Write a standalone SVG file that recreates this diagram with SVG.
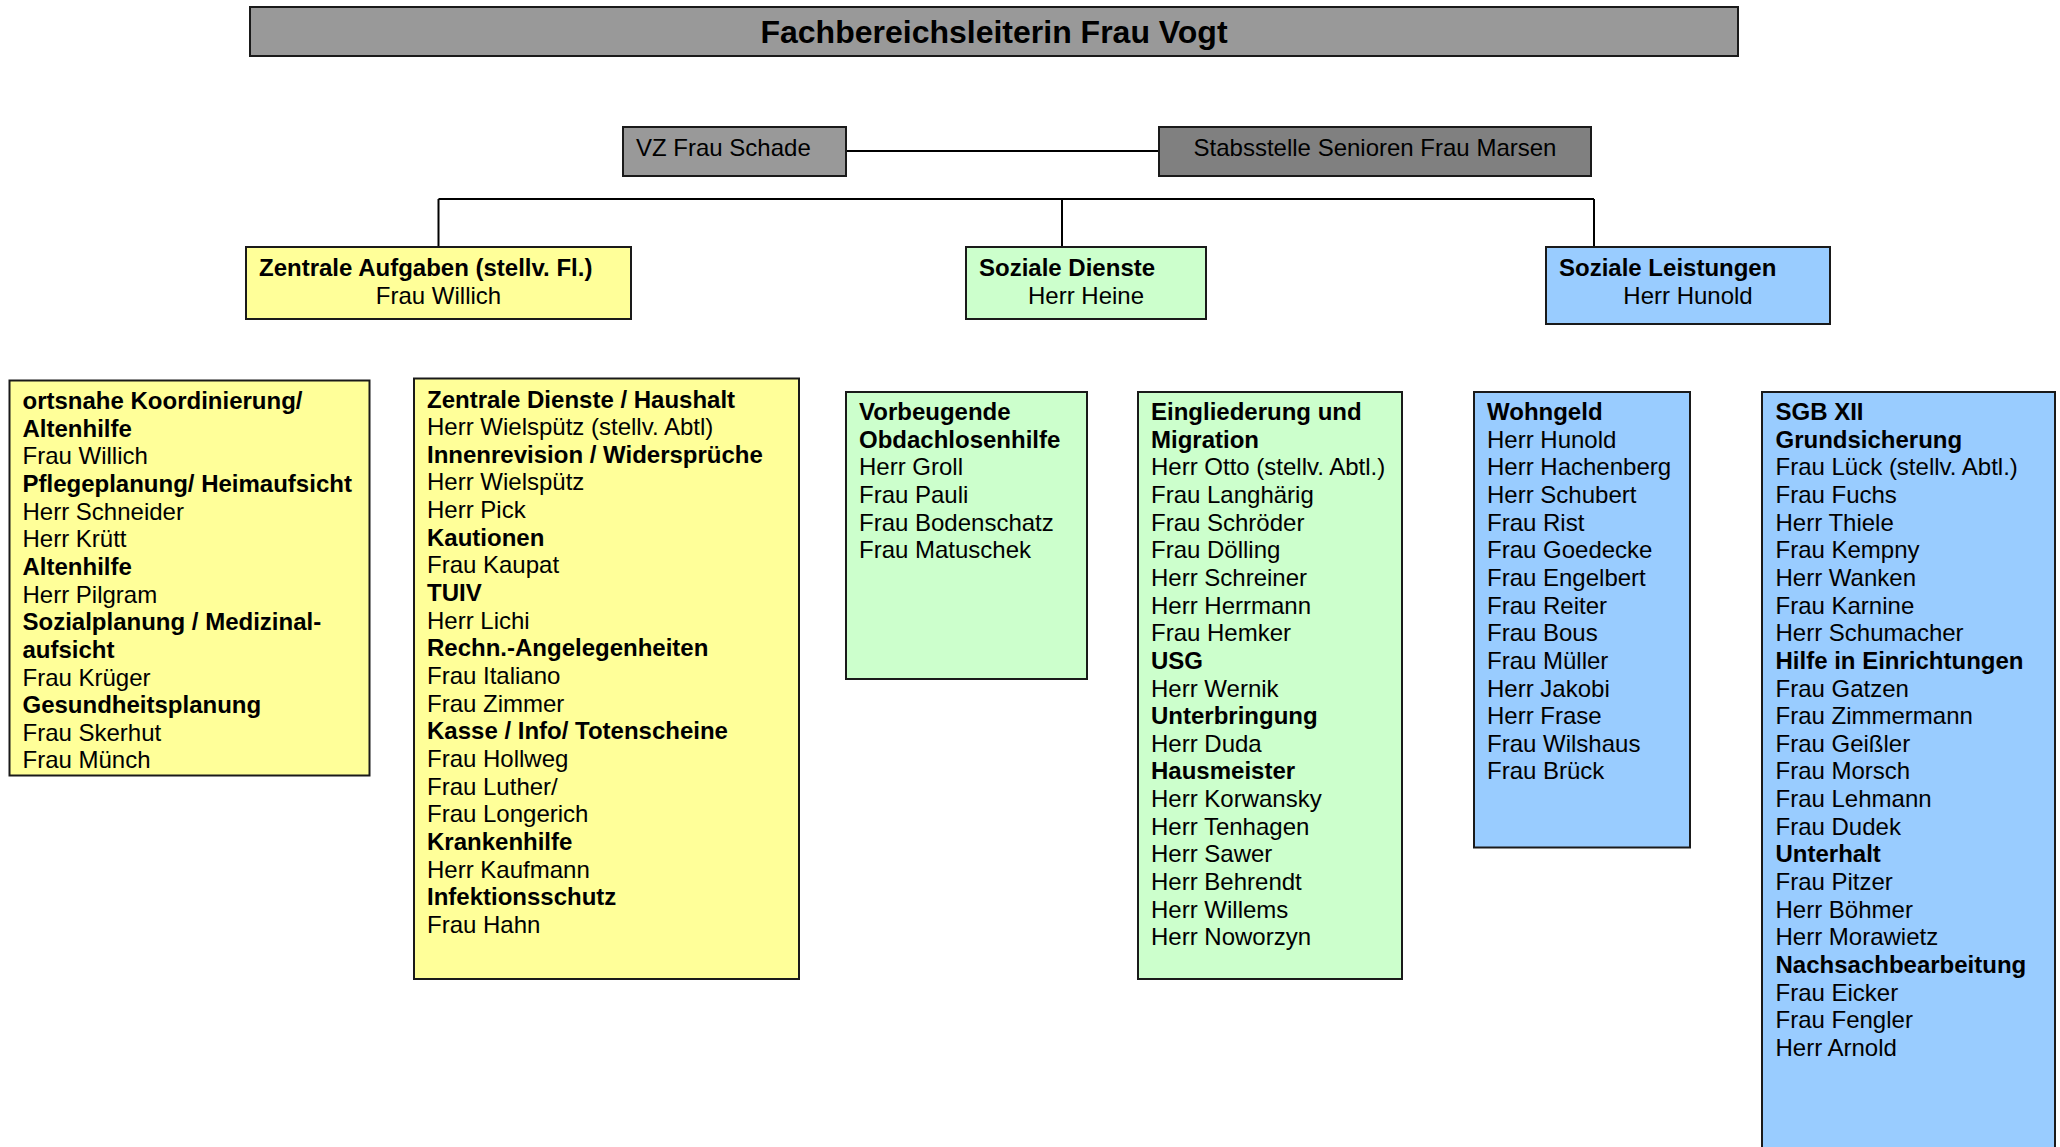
<svg xmlns="http://www.w3.org/2000/svg" width="2060" height="1147" viewBox="0 0 2060 1147">
<style>
text{font-family:"Liberation Sans",Arial,sans-serif;font-size:24px;fill:#000}
.b{font-weight:bold}
.t{font-weight:bold;font-size:32px}
.box{stroke:#1a1a1a;stroke-width:2}
.gray{fill:#999999}
.dgray{fill:#808080}
.yel{fill:#FFFF99}
.grn{fill:#CCFFCC}
.blu{fill:#99CCFF}
.ln{stroke:#000;stroke-width:2;fill:none}
</style>
<rect width="2060" height="1147" fill="#fff"/>
<g id="connectors">
<line class="ln" x1="846" y1="151" x2="1159" y2="151"/>
<line class="ln" x1="438.5" y1="199" x2="1594" y2="199"/>
<line class="ln" x1="438.5" y1="199" x2="438.5" y2="247"/>
<line class="ln" x1="1062" y1="199" x2="1062" y2="247"/>
<line class="ln" x1="1594" y1="199" x2="1594" y2="247"/>
</g>
<g id="title">
<rect class="box gray" x="250" y="7" width="1488" height="49"/>
<text class="t" x="994" y="43" text-anchor="middle">Fachbereichsleiterin Frau Vogt</text>
</g>
<g id="vz">
<rect class="box gray" x="623" y="127" width="223" height="49"/>
<text x="636" y="156">VZ Frau Schade</text>
</g>
<g id="stabsstelle">
<rect class="box dgray" x="1159" y="127" width="432" height="49"/>
<text x="1375" y="156" text-anchor="middle">Stabsstelle Senioren Frau Marsen</text>
</g>
<g id="zentrale">
<rect class="box yel" x="246" y="247" width="385" height="72"/>
<text class="b" x="259" y="276">Zentrale Aufgaben (stellv. Fl.)</text>
<text x="438.5" y="304" text-anchor="middle">Frau Willich</text>
</g>
<g id="sozdienste">
<rect class="box grn" x="966" y="247" width="240" height="72"/>
<text class="b" x="979" y="276">Soziale Dienste</text>
<text x="1086" y="304" text-anchor="middle">Herr Heine</text>
</g>
<g id="sozleistungen">
<rect class="box blu" x="1546" y="247" width="284" height="77"/>
<text class="b" x="1559" y="276">Soziale Leistungen</text>
<text x="1688" y="304" text-anchor="middle">Herr Hunold</text>
</g>
<g id="box-ortsnahe">
<rect class="box yel" x="9.5" y="380.5" width="360" height="395"/>
<text x="22.5">
<tspan class="b" x="22.5" y="409">ortsnahe Koordinierung/</tspan>
<tspan class="b" x="22.5" y="436.65">Altenhilfe</tspan>
<tspan x="22.5" y="464.3">Frau Willich</tspan>
<tspan class="b" x="22.5" y="491.95">Pflegeplanung/ Heimaufsicht</tspan>
<tspan x="22.5" y="519.6">Herr Schneider</tspan>
<tspan x="22.5" y="547.25">Herr Krütt</tspan>
<tspan class="b" x="22.5" y="574.9">Altenhilfe</tspan>
<tspan x="22.5" y="602.55">Herr Pilgram</tspan>
<tspan class="b" x="22.5" y="630.2">Sozialplanung / Medizinal-</tspan>
<tspan class="b" x="22.5" y="657.85">aufsicht</tspan>
<tspan x="22.5" y="685.5">Frau Krüger</tspan>
<tspan class="b" x="22.5" y="713.15">Gesundheitsplanung</tspan>
<tspan x="22.5" y="740.8">Frau Skerhut</tspan>
<tspan x="22.5" y="768.45">Frau Münch</tspan>
</text>
</g>
<g id="box-zentraledienste">
<rect class="box yel" x="414" y="378.5" width="385" height="600.5"/>
<text x="427">
<tspan class="b" x="427" y="407.5">Zentrale Dienste / Haushalt</tspan>
<tspan x="427" y="435.15">Herr Wielspütz (stellv. Abtl)</tspan>
<tspan class="b" x="427" y="462.8">Innenrevision / Widersprüche</tspan>
<tspan x="427" y="490.45">Herr Wielspütz</tspan>
<tspan x="427" y="518.1">Herr Pick</tspan>
<tspan class="b" x="427" y="545.75">Kautionen</tspan>
<tspan x="427" y="573.4">Frau Kaupat</tspan>
<tspan class="b" x="427" y="601.05">TUIV</tspan>
<tspan x="427" y="628.7">Herr Lichi</tspan>
<tspan class="b" x="427" y="656.35">Rechn.-Angelegenheiten</tspan>
<tspan x="427" y="684">Frau Italiano</tspan>
<tspan x="427" y="711.65">Frau Zimmer</tspan>
<tspan class="b" x="427" y="739.3">Kasse / Info/ Totenscheine</tspan>
<tspan x="427" y="766.95">Frau Hollweg</tspan>
<tspan x="427" y="794.6">Frau Luther/</tspan>
<tspan x="427" y="822.25">Frau Longerich</tspan>
<tspan class="b" x="427" y="849.9">Krankenhilfe</tspan>
<tspan x="427" y="877.55">Herr Kaufmann</tspan>
<tspan class="b" x="427" y="905.2">Infektionsschutz</tspan>
<tspan x="427" y="932.85">Frau Hahn</tspan>
</text>
</g>
<g id="box-obdachlosenhilfe">
<rect class="box grn" x="846" y="392" width="241" height="287"/>
<text x="859">
<tspan class="b" x="859" y="420">Vorbeugende</tspan>
<tspan class="b" x="859" y="447.65">Obdachlosenhilfe</tspan>
<tspan x="859" y="475.3">Herr Groll</tspan>
<tspan x="859" y="502.95">Frau Pauli</tspan>
<tspan x="859" y="530.6">Frau Bodenschatz</tspan>
<tspan x="859" y="558.25">Frau Matuschek</tspan>
</text>
</g>
<g id="box-eingliederung">
<rect class="box grn" x="1138" y="392" width="264" height="587"/>
<text x="1151">
<tspan class="b" x="1151" y="420">Eingliederung und</tspan>
<tspan class="b" x="1151" y="447.65">Migration</tspan>
<tspan x="1151" y="475.3">Herr Otto (stellv. Abtl.)</tspan>
<tspan x="1151" y="502.95">Frau Langhärig</tspan>
<tspan x="1151" y="530.6">Frau Schröder</tspan>
<tspan x="1151" y="558.25">Frau Dölling</tspan>
<tspan x="1151" y="585.9">Herr Schreiner</tspan>
<tspan x="1151" y="613.55">Herr Herrmann</tspan>
<tspan x="1151" y="641.2">Frau Hemker</tspan>
<tspan class="b" x="1151" y="668.85">USG</tspan>
<tspan x="1151" y="696.5">Herr Wernik</tspan>
<tspan class="b" x="1151" y="724.15">Unterbringung</tspan>
<tspan x="1151" y="751.8">Herr Duda</tspan>
<tspan class="b" x="1151" y="779.45">Hausmeister</tspan>
<tspan x="1151" y="807.1">Herr Korwansky</tspan>
<tspan x="1151" y="834.75">Herr Tenhagen</tspan>
<tspan x="1151" y="862.4">Herr Sawer</tspan>
<tspan x="1151" y="890.05">Herr Behrendt</tspan>
<tspan x="1151" y="917.7">Herr Willems</tspan>
<tspan x="1151" y="945.35">Herr Noworzyn</tspan>
</text>
</g>
<g id="box-wohngeld">
<rect class="box blu" x="1474" y="392" width="216" height="455.5"/>
<text x="1487">
<tspan class="b" x="1487" y="420">Wohngeld</tspan>
<tspan x="1487" y="447.65">Herr Hunold</tspan>
<tspan x="1487" y="475.3">Herr Hachenberg</tspan>
<tspan x="1487" y="502.95">Herr Schubert</tspan>
<tspan x="1487" y="530.6">Frau Rist</tspan>
<tspan x="1487" y="558.25">Frau Goedecke</tspan>
<tspan x="1487" y="585.9">Frau Engelbert</tspan>
<tspan x="1487" y="613.55">Frau Reiter</tspan>
<tspan x="1487" y="641.2">Frau Bous</tspan>
<tspan x="1487" y="668.85">Frau Müller</tspan>
<tspan x="1487" y="696.5">Herr Jakobi</tspan>
<tspan x="1487" y="724.15">Herr Frase</tspan>
<tspan x="1487" y="751.8">Frau Wilshaus</tspan>
<tspan x="1487" y="779.45">Frau Brück</tspan>
</text>
</g>
<g id="box-sgbxii">
<rect class="box blu" x="1762" y="392" width="293" height="780"/>
<text x="1775.5">
<tspan class="b" x="1775.5" y="420">SGB XII</tspan>
<tspan class="b" x="1775.5" y="447.65">Grundsicherung</tspan>
<tspan x="1775.5" y="475.3">Frau Lück (stellv. Abtl.)</tspan>
<tspan x="1775.5" y="502.95">Frau Fuchs</tspan>
<tspan x="1775.5" y="530.6">Herr Thiele</tspan>
<tspan x="1775.5" y="558.25">Frau Kempny</tspan>
<tspan x="1775.5" y="585.9">Herr Wanken</tspan>
<tspan x="1775.5" y="613.55">Frau Karnine</tspan>
<tspan x="1775.5" y="641.2">Herr Schumacher</tspan>
<tspan class="b" x="1775.5" y="668.85">Hilfe in Einrichtungen</tspan>
<tspan x="1775.5" y="696.5">Frau Gatzen</tspan>
<tspan x="1775.5" y="724.15">Frau Zimmermann</tspan>
<tspan x="1775.5" y="751.8">Frau Geißler</tspan>
<tspan x="1775.5" y="779.45">Frau Morsch</tspan>
<tspan x="1775.5" y="807.1">Frau Lehmann</tspan>
<tspan x="1775.5" y="834.75">Frau Dudek</tspan>
<tspan class="b" x="1775.5" y="862.4">Unterhalt</tspan>
<tspan x="1775.5" y="890.05">Frau Pitzer</tspan>
<tspan x="1775.5" y="917.7">Herr Böhmer</tspan>
<tspan x="1775.5" y="945.35">Herr Morawietz</tspan>
<tspan class="b" x="1775.5" y="973">Nachsachbearbeitung</tspan>
<tspan x="1775.5" y="1000.65">Frau Eicker</tspan>
<tspan x="1775.5" y="1028.3">Frau Fengler</tspan>
<tspan x="1775.5" y="1055.95">Herr Arnold</tspan>
</text>
</g>
</svg>
